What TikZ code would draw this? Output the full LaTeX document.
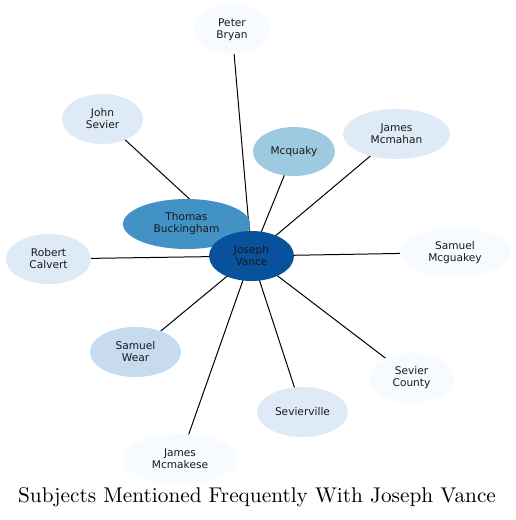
\documentclass[tikz,border=0pt]{standalone}
\usepackage{fontspec}
\newfontfamily\labelfont{DejaVu Sans}
\newfontfamily\titlefont{lmroman10-regular}[Extension=.otf]
\usetikzlibrary{shapes.geometric}
\pgfdeclarelayer{edges}
\pgfsetlayers{edges,main}
\definecolor{b0}{HTML}{F7FBFF}
\definecolor{b1}{HTML}{DEEBF7}
\definecolor{b2}{HTML}{C6DBEF}
\definecolor{b3}{HTML}{9ECAE1}
\definecolor{b5}{HTML}{4292C6}
\definecolor{b7}{HTML}{08519C}
\tikzset{
  ent/.style={ellipse, inner sep=0pt, minimum height=50pt, align=center,
    font=\labelfont\fontsize{10.6}{12}\selectfont, text=black!90},
  link/.style={draw=black, line width=1pt},
}
\begin{document}
\begin{tikzpicture}[x=1pt,y=-1pt]
\useasboundingbox (0,0) rectangle (516,520);
\node[ent, fill=b0, minimum width=75pt, minimum height=49pt] (peter) at (232,29.5) {Peter\\Bryan};
\node[ent, fill=b1, minimum width=81pt] (john) at (102.5,119) {John\\Sevier};
\node[ent, fill=b3, minimum width=82pt, minimum height=49pt] (mcquaky) at (294,151.5) {Mcquaky};
\node[ent, fill=b1, minimum width=107pt] (mcmahan) at (396.5,134) {James\\Mcmahan};
\node[ent, fill=b1, minimum width=85pt] (robert) at (48.5,259) {Robert\\Calvert};
\node[ent, fill=b0, minimum width=110pt, minimum height=49pt] (mcguakey) at (455,252.5) {Samuel\\Mcguakey};
\node[ent, fill=b2, minimum width=91pt] (wear) at (135.5,352) {Samuel\\Wear};
\node[ent, fill=b0, minimum width=85pt] (county) at (411.5,378) {Sevier\\County};
\node[ent, fill=b1, minimum width=91pt] (sevierville) at (302.5,412) {Sevierville};
\node[ent, fill=b0, minimum width=114pt] (mcmakese) at (180,459) {James\\Mcmakese};
\node[ent, fill=b5, minimum width=127pt] (thomas) at (186.5,224) {Thomas\\Buckingham};
\node[ent, fill=b7, minimum width=85pt] (joseph) at (251.5,256) {Joseph\\Vance};
\begin{pgfonlayer}{edges}
\foreach \n in {peter,john,mcquaky,mcmahan,robert,mcguakey,wear,county,sevierville,mcmakese,thomas}
  \draw[link] (joseph.center) -- (\n.center);
\end{pgfonlayer}
\node[font=\titlefont\fontsize{21.3}{25}\selectfont] (title) at (257,497.5) {Subjects Mentioned Frequently With Joseph Vance};
\end{tikzpicture}
\end{document}
